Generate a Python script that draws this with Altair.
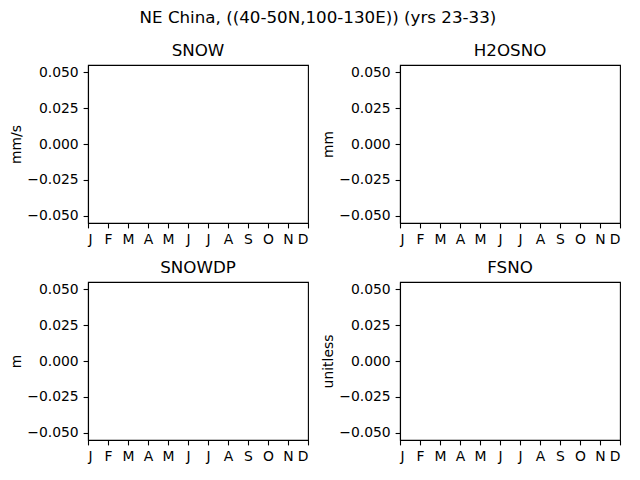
import altair as alt
import pandas as pd

# month axis
MONTHS = [1, 2, 3, 4, 5, 6, 7, 8, 9, 10, 11, 12]
MONTH_LABELS = ["J", "F", "M", "A", "M", "J", "J", "A", "S", "O", "N", "D"]

# monthly means for the region: no valid values in this period
SNOW = [None, None, None, None, None, None, None, None, None, None, None, None]
H2OSNO = [None, None, None, None, None, None, None, None, None, None, None, None]
SNOWDP = [None, None, None, None, None, None, None, None, None, None, None, None]
FSNO = [None, None, None, None, None, None, None, None, None, None, None, None]

Y_TICKS = [-0.05, -0.025, 0.0, 0.025, 0.05]

df = pd.DataFrame({
    "month": MONTHS,
    "SNOW": SNOW,
    "H2OSNO": H2OSNO,
    "SNOWDP": SNOWDP,
    "FSNO": FSNO,
})

x_label_expr = "[" + ",".join(f"'{m}'" for m in MONTH_LABELS) + "][datum.value - 1]"
# matplotlib-style unicode minus
y_label_expr = "replace(format(datum.value, '.3f'), '-', '\u2212')"


def panel(field, units):
    return (
        alt.Chart(df)
        .mark_line(color="#1f77b4", strokeWidth=1.5)
        .encode(
            x=alt.X(
                "month:Q",
                scale=alt.Scale(domain=[1, 12], nice=False, zero=False),
                axis=alt.Axis(values=MONTHS, labelExpr=x_label_expr, title=None),
            ),
            y=alt.Y(
                f"{field}:Q",
                scale=alt.Scale(domain=[-0.055, 0.055], nice=False, zero=False),
                axis=alt.Axis(values=Y_TICKS, labelExpr=y_label_expr, title=units),
            ),
        )
        .properties(width=220, height=158, title=field)
    )


chart = (
    alt.concat(
        panel("SNOW", "mm/s"),
        panel("H2OSNO", "mm"),
        panel("SNOWDP", "m"),
        panel("FSNO", "unitless"),
        columns=2,
        spacing={"row": 59, "column": 92},
        bounds="flush",
    )
    .properties(
        title=alt.TitleParams(
            "NE China, ((40-50N,100-130E)) (yrs 23-33)",
            font="DejaVu Sans",
            fontSize=16.7,
            fontWeight="normal",
            color="black",
            anchor="middle",
            offset=16,
            dx=3,
        ),
        padding={"left": 0, "top": 2, "right": 10, "bottom": 10},
        background="white",
    )
    .configure_axis(
        grid=False,
        labelFont="DejaVu Sans",
        labelFontSize=13.9,
        labelColor="black",
        labelPadding=4.9,
        tickColor="black",
        tickSize=4.9,
        tickWidth=1.1,
        domainColor="black",
        domainWidth=1.1,
        titleFont="DejaVu Sans",
        titleFontSize=13.9,
        titleFontWeight="normal",
        titleColor="black",
        titlePadding=3.5,
    )
    .configure_title(
        font="DejaVu Sans",
        fontSize=16.7,
        fontWeight="normal",
        color="black",
        offset=5,
    )
    .configure_view(stroke="black", strokeWidth=1.1)
)

chart.save("out.html", embed_options={"renderer": "svg", "actions": False})
